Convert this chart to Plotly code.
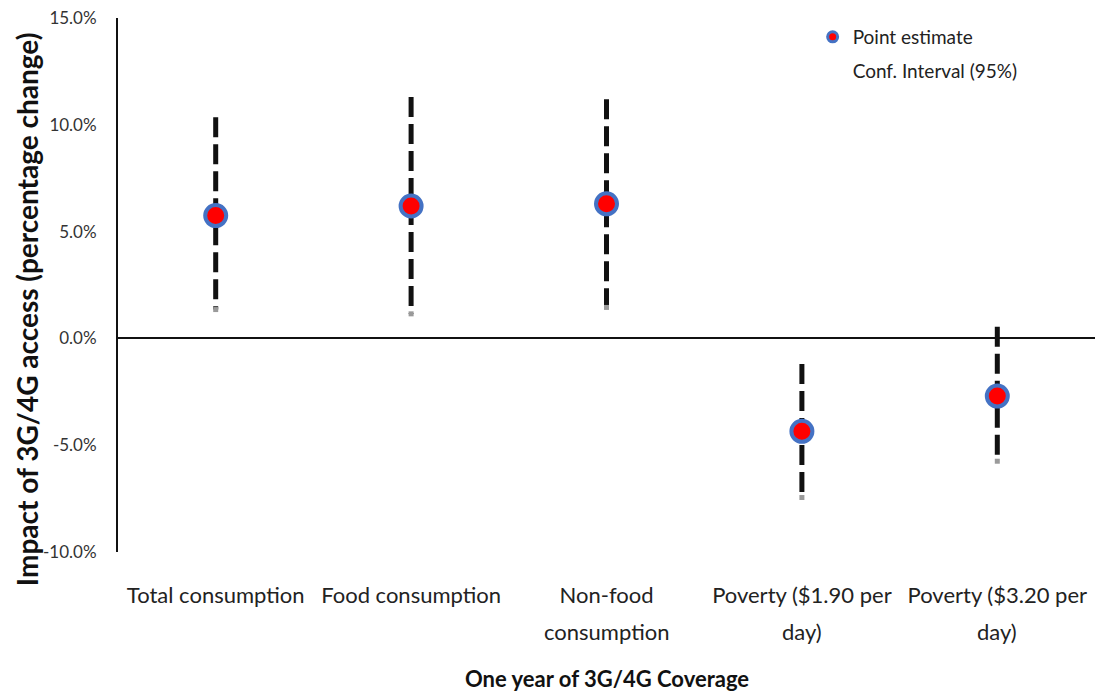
import plotly.graph_objects as go

categories = ["Total consumption", "Food consumption", "Non-food consumption",
              "Poverty ($1.90 per day)", "Poverty ($3.20 per day)"]
label_line1 = ["Total consumption", "Food consumption", "Non-food",
               "Poverty ($1.90 per", "Poverty ($3.20 per"]
label_line2 = ["", "", "consumption", "day)", "day)"]
point_est = [5.75, 6.2, 6.3, -4.35, -2.7]
ci_low = [1.35, 1.15, 1.45, -7.45, -5.75]
ci_high = [10.35, 11.3, 11.2, -1.2, 0.55]
y_ticks = [-10, -5, 0, 5, 10, 15]
y_ticktext = ["-10.0%", "-5.0%", "0.0%", "5.0%", "10.0%", "15.0%"]

FONT = "Lato"
fig = go.Figure()

# Confidence interval dashed lines (drawn top to bottom)
for c, lo, hi in zip(categories, ci_low, ci_high):
    fig.add_trace(go.Scatter(
        x=[c, c], y=[hi, lo], mode="lines",
        line=dict(color="#111111", width=5, dash="20px,7px"),
        showlegend=False, hoverinfo="skip"))

# small grey end markers at lower bound
fig.add_trace(go.Scatter(
    x=categories, y=ci_low, mode="markers",
    marker=dict(color="#9a9a9a", size=5, symbol="square"),
    showlegend=False, hoverinfo="skip"))

# Point estimates
fig.add_trace(go.Scatter(
    x=categories, y=point_est, mode="markers",
    marker=dict(color="#ff0000", size=21, line=dict(color="#4472C4", width=4)),
    showlegend=False))

# Legend entries
fig.add_trace(go.Scatter(
    x=[None], y=[None], mode="markers", name="Point estimate",
    legendgroup="a",
    marker=dict(color="#ff0000", size=10, line=dict(color="#4472C4", width=3))))
fig.add_trace(go.Scatter(
    x=[None], y=[None], mode="markers", name="Conf. Interval (95%)",
    legendgroup="b",
    marker=dict(color="rgba(0,0,0,0)", size=1)))

annotations = []
for c, l2 in zip(categories, label_line2):
    if l2:
        annotations.append(dict(
            x=c, xref="x", y=-0.148, yref="paper", text=l2, showarrow=False,
            yanchor="middle", font=dict(family=FONT, size=22, color="#222222")))

annotations.append(dict(
    x=0.5005, xref="paper", y=-0.236, yref="paper", yanchor="middle",
    text="<b>One year of 3G/4G Coverage</b>", showarrow=False,
    font=dict(family=FONT, size=22, color="#111111")))
annotations.append(dict(
    x=-0.0931, xref="paper", y=0.453, yref="paper", xanchor="center",
    yanchor="middle", textangle=-90,
    text="<b>Impact of 3G/4G access (percentage change)</b>", showarrow=False,
    font=dict(family=FONT, size=28, color="#111111")))

fig.update_layout(
    width=1097, height=694,
    margin=dict(l=118, r=2, t=18, b=142),
    plot_bgcolor="white", paper_bgcolor="white",
    font=dict(family=FONT, color="#333333"),
    showlegend=True,
    legend=dict(x=0.711, y=1.0, xanchor="left", yanchor="top",
                bgcolor="rgba(0,0,0,0)", font=dict(family=FONT, size=19, color="#222222"),
                traceorder="grouped", tracegroupgap=6),
    annotations=annotations,
)

fig.update_xaxes(
    type="category", categoryorder="array", categoryarray=categories,
    tickvals=categories, ticktext=label_line1, range=[-0.5, 4.5],
    automargin=False,
    showgrid=False, showline=False, zeroline=False, ticks="",
    tickfont=dict(family=FONT, size=22, color="#222222"),
    ticklabelstandoff=28,
)
fig.update_yaxes(
    range=[-10, 15], tickvals=y_ticks, ticktext=y_ticktext,
    automargin=False,
    showgrid=False, showline=True, linecolor="#111111", linewidth=2,
    zeroline=True, zerolinecolor="#111111", zerolinewidth=2,
    ticks="", tickfont=dict(family=FONT, size=17, color="#333333"),
    ticklabelstandoff=16,
)

fig.write_html("out.html", config={"displayModeBar": False},
               post_script="document.body.style.margin='0px';")
